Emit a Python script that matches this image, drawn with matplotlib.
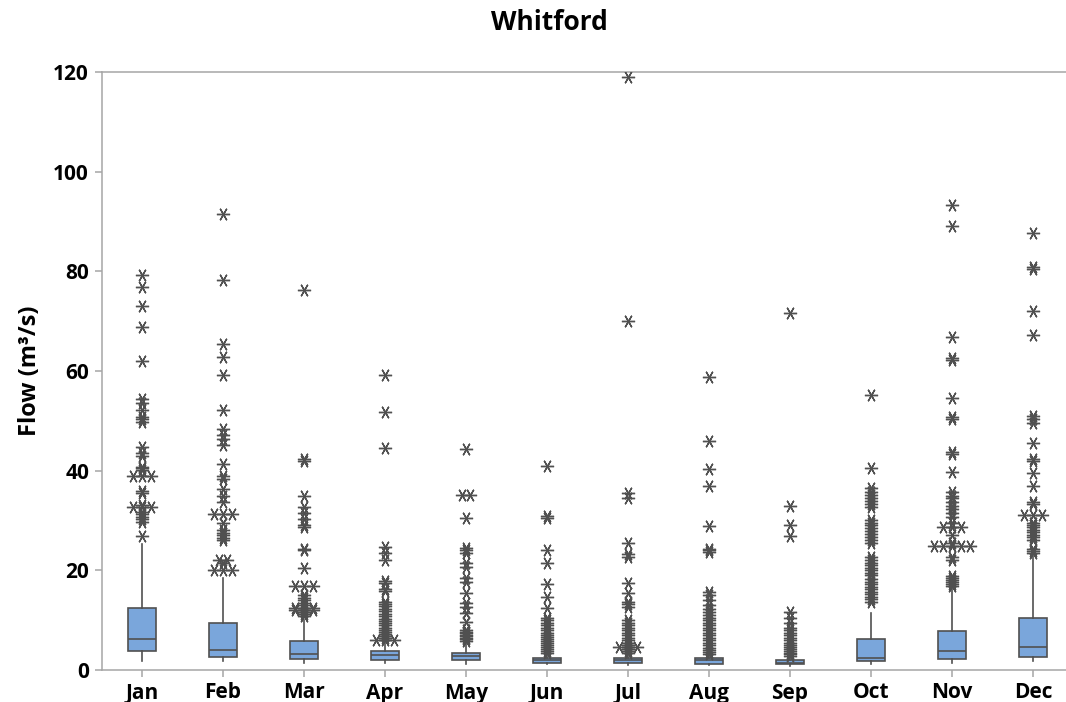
from collections import Counter

import matplotlib.pyplot as plt

plt.rcParams['font.family'] = ['Open Sans', 'DejaVu Sans']

months = ['Jan', 'Feb', 'Mar', 'Apr', 'May', 'Jun',
          'Jul', 'Aug', 'Sep', 'Oct', 'Nov', 'Dec']

# box summaries, m3/s
q1 = [3.8, 2.7, 2.3, 2.1, 2.0, 1.5, 1.5, 1.3, 1.2, 1.8, 2.3, 2.7]
median = [6.3, 4.0, 3.3, 3.0, 2.8, 2.1, 2.1, 2.0, 1.5, 2.5, 3.8, 4.7]
q3 = [12.5, 9.4, 5.8, 3.8, 3.5, 2.5, 2.5, 2.5, 2.0, 6.2, 7.9, 10.5]
whisker_lo = [1.9, 1.9, 1.5, 1.5, 1.2, 1.3, 1.0, 1.0, 0.9, 1.2, 1.5, 1.9]
whisker_hi = [25.2, 18.4, 10.0, 5.8, 5.4, 3.3, 3.0, 3.0, 2.5, 11.4, 16.4, 22.8]

# outliers; repeated values are tied observations
out_jan = [26.8, 29.6, 30.3, 30.8, 31.4, 31.8, 32.8, 32.8, 32.8, 33.2, 35.5,
           36.0, 39.0, 39.0, 39.0, 40.1, 40.5, 40.8, 42.9, 43.5, 44.8, 49.8,
           50.3, 50.8, 52.2, 53.5, 54.3, 62.1, 68.9, 73.0, 76.9, 79.3]
out_feb = [20.1, 20.1, 20.1, 21.4, 22.0, 22.0, 26.1, 26.5, 27.0, 27.5, 28.0,
           29.4, 31.3, 31.3, 31.3, 33.8, 35.0, 36.3, 38.4, 38.9, 41.3, 45.2,
           46.3, 47.2, 48.3, 52.2, 59.2, 62.9, 65.4, 78.3, 91.5]
out_mar = [10.8, 11.3, 11.7, 12.0, 12.0, 12.0, 12.5, 12.5, 12.5, 13.0, 13.5,
           14.0, 14.4, 15.0, 16.8, 16.8, 16.8, 20.4, 24.0, 24.3, 28.6, 29.1,
           30.4, 31.6, 32.8, 34.9, 42.0, 42.3, 76.3]
out_apr = [6.0, 6.0, 6.0, 6.4, 6.8, 7.2, 7.6, 8.0, 8.5, 9.0, 9.4, 9.8, 10.3,
           10.8, 11.3, 11.8, 12.3, 12.8, 13.3, 13.7, 15.8, 16.2, 17.5, 17.8,
           22.0, 23.4, 24.7, 44.5, 51.8, 59.2]
out_may = [5.8, 6.2, 6.5, 6.8, 7.1, 7.4, 7.7, 8.0, 9.7, 11.4, 12.7, 13.4,
           15.4, 17.7, 18.4, 20.7, 21.4, 23.5, 24.0, 24.4, 30.5, 35.2, 35.2,
           44.3]
out_jun = [3.5, 3.9, 4.3, 4.7, 5.1, 5.5, 5.9, 6.3, 6.7, 7.1, 7.5, 8.0, 8.5,
           9.0, 9.5, 10.0, 10.5, 12.4, 14.7, 17.3, 21.4, 24.0, 30.5, 31.0,
           41.0]
out_jul = [3.4, 3.8, 4.2, 4.7, 4.7, 4.7, 5.0, 5.4, 6.0, 6.5, 7.0, 7.5, 8.0,
           8.5, 9.0, 9.5, 10.0, 12.7, 13.2, 13.7, 15.4, 17.5, 22.7, 23.3,
           25.5, 34.5, 35.5, 70.0, 119.0]
out_aug = [3.3, 3.7, 4.1, 4.5, 5.0, 5.5, 6.0, 6.5, 7.0, 7.5, 8.0, 8.5, 9.0,
           9.5, 10.0, 10.5, 11.0, 11.6, 12.3, 13.0, 14.0, 15.0, 15.7, 23.7,
           24.0, 24.3, 28.8, 37.0, 40.3, 46.0, 58.7]
out_sep = [2.8, 3.2, 3.5, 3.8, 4.2, 4.6, 5.0, 5.5, 6.0, 6.5, 7.0, 7.5, 8.0,
           8.5, 9.4, 10.4, 11.7, 26.9, 29.1, 33.0, 71.6]
out_oct = [13.7, 14.2, 14.7, 15.2, 15.7, 16.2, 16.7, 17.2, 17.7, 18.2, 19.0,
           19.5, 20.0, 20.5, 21.0, 21.5, 22.0, 22.7, 25.4, 26.0, 26.6, 27.2,
           27.8, 28.4, 29.0, 29.5, 30.1, 32.8, 33.4, 34.0, 34.6, 35.2, 35.8,
           36.5, 40.6, 55.2]
out_nov = [16.8, 17.2, 17.6, 18.0, 18.4, 18.8, 22.0, 22.7, 24.9, 24.9, 24.9,
           24.9, 24.9, 25.5, 27.0, 28.6, 28.6, 28.6, 29.5, 30.8, 31.5, 32.3,
           33.0, 33.8, 34.5, 35.0, 35.8, 39.8, 43.3, 43.7, 50.3, 50.7, 54.5,
           62.3, 62.7, 66.9, 89.0, 93.3]
out_dec = [23.4, 23.8, 24.3, 26.1, 26.6, 27.1, 27.6, 28.1, 28.6, 29.1, 29.5,
           31.2, 31.2, 31.2, 33.4, 33.8, 37.0, 39.6, 42.0, 42.4, 45.5, 49.5,
           50.3, 51.0, 67.2, 72.1, 80.5, 80.9, 87.7]
outliers = [out_jan, out_feb, out_mar, out_apr, out_may, out_jun,
            out_jul, out_aug, out_sep, out_oct, out_nov, out_dec]

BOX_FILL = '#7aa6db'
DARK = '#505050'
AXIS_GREY = '#a6a6a6'


def spread_ties(vals, step=0.11):
    """Place tied values side by side, centred on the box."""
    xs, ys = [], []
    for v, n in Counter(vals).items():
        for k in range(n):
            xs.append((k - (n - 1) / 2) * step)
            ys.append(v)
    return xs, ys


fig = plt.figure(figsize=(10.66, 7.02), dpi=100)
ax = fig.add_axes([101.5 / 1066, 32 / 702, 972 / 1066, 598 / 702])

positions = list(range(1, len(months) + 1))
stats = [dict(med=m, q1=a, q3=b, whislo=lo, whishi=hi, fliers=[])
         for a, m, b, lo, hi in zip(q1, median, q3, whisker_lo, whisker_hi)]
ax.bxp(stats, positions=positions, widths=0.34, patch_artist=True,
       showcaps=False, showfliers=False,
       boxprops=dict(facecolor=BOX_FILL, edgecolor=DARK, linewidth=1.2),
       medianprops=dict(color=DARK, linewidth=1.2),
       whiskerprops=dict(color=DARK, linewidth=1.2))

for pos, vals in zip(positions, outliers):
    dx, ys = spread_ties(vals)
    ax.plot([pos + d for d in dx], ys, linestyle='none', marker=(6, 2, 90),
            markersize=9.5, markeredgewidth=1.0, color=DARK, zorder=3)

ax.set_xlim(0.5, 12.5)
ax.set_ylim(0, 120)
ax.set_yticks(range(0, 121, 20))
ax.set_xticks(positions)
ax.set_xticklabels(months)

for side in ('top', 'left', 'bottom'):
    ax.spines[side].set_color(AXIS_GREY)
    ax.spines[side].set_linewidth(1.1)
ax.spines['right'].set_visible(False)
ax.tick_params(direction='out', length=5, width=1.1, color=AXIS_GREY,
               labelsize=15, pad=4)
for lbl in ax.get_xticklabels() + ax.get_yticklabels():
    lbl.set_fontweight('bold')

ax.set_ylabel('Flow (m\u00b3/s)', fontsize=17, fontweight='bold', labelpad=8)
fig.text(549 / 1066, 1 - 22 / 702, 'Whitford', ha='center', va='center',
         fontsize=19, fontweight='bold')

fig.savefig('out.png', dpi=100)
